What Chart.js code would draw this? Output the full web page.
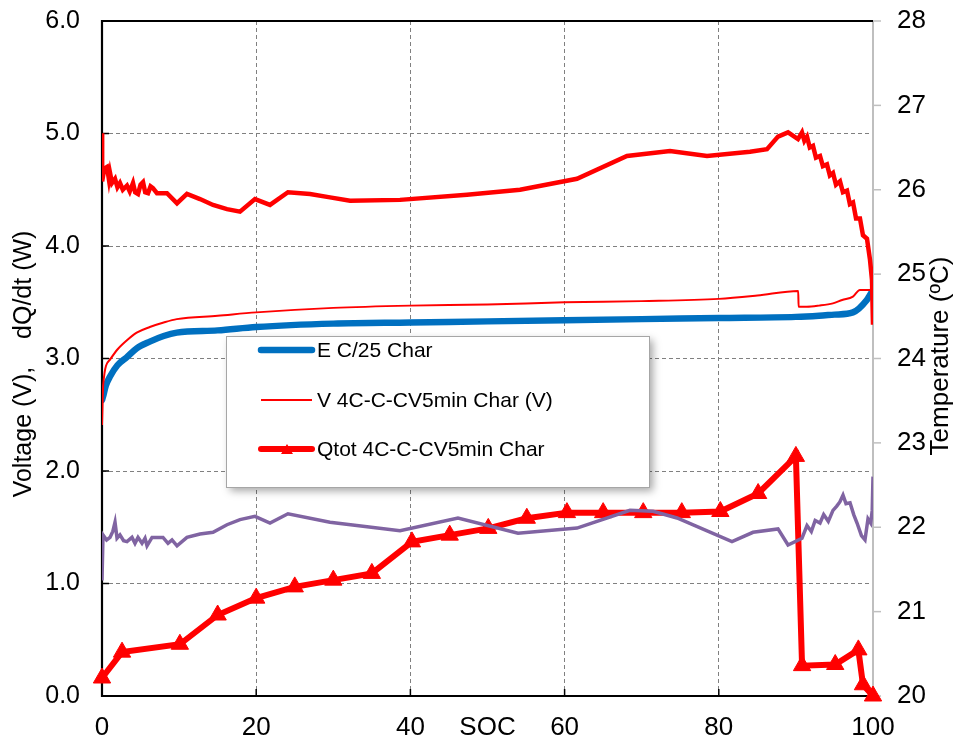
<!DOCTYPE html>
<html>
<head>
<meta charset="utf-8">
<script src="https://cdn.jsdelivr.net/npm/chart.js@4"></script>
<style>
  html, body { margin: 0; padding: 0; background: #fff; }
  #wrap { width: 956px; height: 744px; }
</style>
</head>
<body>
<div id="wrap"><canvas id="c" width="956" height="744"></canvas></div>
<script>
// ---------- tick labels ----------
const socTicks = [0, 20, 40, 60, 80, 100];
const leftTicks = [0, 1, 2, 3, 4, 5, 6];
const tempTicks = [20, 21, 22, 23, 24, 25, 26, 27, 28];

// ---------- E C/25 Char (left axis) ----------
const socE = [0, 0.13, 0.5, 1.04, 2, 3.2, 4.5, 6.2, 8, 9.7, 15, 20, 30, 40, 50, 60, 70, 80, 90, 93, 95, 97.4, 99.2, 100];
const eC25 = [2.63, 2.66, 2.76, 2.84, 2.94, 3.01, 3.09, 3.15, 3.2, 3.23, 3.25, 3.28, 3.31, 3.32, 3.33, 3.34, 3.35, 3.36, 3.37, 3.38, 3.39, 3.41, 3.52, 3.61];

// ---------- V 4C-C-CV5min Char (V) (left axis) ----------
const socV = [0, 0.17, 1.04, 2, 3.2, 4.5, 6.2, 8, 9.7, 15, 20, 30, 40, 50, 60, 70, 80, 85, 90.3, 90.35, 91.4, 93, 94.8, 96, 97.4, 98.3, 99, 100];
const vChar = [2.41, 2.78, 2.99, 3.08, 3.16, 3.23, 3.28, 3.32, 3.35, 3.38, 3.41, 3.45, 3.47, 3.48, 3.50, 3.51, 3.53, 3.56, 3.60, 3.46, 3.46, 3.47, 3.49, 3.52, 3.55, 3.61, 3.61, 3.61];

// ---------- Qtot 4C-C-CV5min Char (left axis) ----------
const socQ = [0, 2.6, 10.1, 15, 20, 25, 30, 35, 40.2, 45.1, 50.1, 55.1, 60.3, 65, 70.2, 75.2, 80.2, 85.1, 90, 90.8, 95.1, 98.1, 98.7, 100];
const qtot = [0.16, 0.39, 0.46, 0.72, 0.87, 0.97, 1.03, 1.09, 1.37, 1.43, 1.49, 1.58, 1.63, 1.63, 1.63, 1.63, 1.64, 1.80, 2.13, 0.27, 0.28, 0.41, 0.10, 0.0];

// ---------- temperature (red, right axis) ----------
const socTr = [0, 0.02, 0.3, 0.65, 0.9, 1.04, 1.3, 1.69, 2.0, 2.33, 2.7, 3.24, 3.6, 4.02, 4.3, 4.67, 5.0, 5.32, 5.6, 5.97, 6.3, 6.61, 7.13, 8.43, 9.73, 11.02, 12.71, 14.4, 16.21, 17.9, 19.84, 21.79, 24.12, 26.98, 29.57, 32.17, 38.65, 47.34, 54.22, 61.61, 68.09, 73.67, 78.47, 84.05, 86.25, 87.68, 88.98, 90.27, 90.79, 91.1, 91.44, 91.8, 92.22, 92.6, 93.13, 93.5, 94.03, 94.4, 94.81, 95.2, 95.72, 96.1, 96.63, 97.0, 97.41, 97.8, 98.31, 98.7, 99.22, 99.61, 99.87, 100];
const tempRed = [26.67, 26.10, 26.25, 26.27, 26.12, 26.20, 26.08, 26.13, 26.03, 26.08, 26.00, 26.05, 25.98, 26.08, 25.97, 25.95, 26.06, 26.09, 25.97, 25.96, 26.04, 26.02, 25.96, 25.96, 25.84, 25.95, 25.89, 25.82, 25.77, 25.74, 25.89, 25.82, 25.97, 25.95, 25.91, 25.87, 25.88, 25.94, 26.00, 26.13, 26.40, 26.46, 26.40, 26.45, 26.48, 26.63, 26.68, 26.60, 26.68, 26.58, 26.63, 26.50, 26.52, 26.38, 26.40, 26.28, 26.30, 26.17, 26.20, 26.06, 26.10, 25.97, 25.99, 25.83, 25.85, 25.66, 25.66, 25.46, 25.42, 25.17, 24.93, 24.40];

// ---------- temperature (purple, right axis) ----------
const socTp = [0, 0.13, 0.6, 1.04, 1.4, 1.69, 1.95, 2.33, 2.8, 3.24, 3.89, 4.28, 4.67, 5.19, 5.58, 5.84, 6.49, 7.91, 8.56, 9.08, 9.73, 11.02, 12.71, 14.4, 16.21, 17.9, 19.84, 21.79, 24.12, 29.57, 38.65, 46.17, 53.96, 61.61, 68.48, 71.47, 74.58, 81.71, 84.44, 87.68, 88.98, 90.79, 91.44, 92.0, 92.5, 93.13, 93.6, 94.2, 94.81, 95.3, 95.7, 96.11, 96.5, 97.02, 97.5, 97.93, 98.5, 98.96, 99.35, 99.7, 99.9, 100];
const tempPurple = [21.37, 21.91, 21.85, 21.88, 21.95, 22.06, 21.87, 21.91, 21.84, 21.83, 21.88, 21.81, 21.88, 21.81, 21.87, 21.78, 21.88, 21.88, 21.81, 21.85, 21.78, 21.88, 21.92, 21.94, 22.03, 22.09, 22.13, 22.05, 22.16, 22.06, 21.96, 22.11, 21.93, 21.99, 22.20, 22.19, 22.11, 21.83, 21.94, 21.98, 21.79, 21.87, 22.02, 21.95, 22.08, 22.05, 22.15, 22.07, 22.20, 22.25, 22.30, 22.38, 22.28, 22.29, 22.15, 22.05, 21.90, 21.85, 22.10, 22.05, 22.20, 22.60];

const FONT = "'Liberation Sans', Arial, sans-serif";
const pts = (xs, ys) => xs.map((x, i) => ({ x: x, y: ys[i] }));

const dsPurple = { label: 'T1', data: pts(socTp, tempPurple), yAxisID: 'yT', borderColor: '#8064A2', borderWidth: 3.5, pointRadius: 0, tension: 0 };
const dsTempRed = { label: 'T2', data: pts(socTr, tempRed), yAxisID: 'yT', borderColor: '#FF0000', borderWidth: 4.5, pointRadius: 0, tension: 0 };
const dsQ = { label: 'Qtot 4C-C-CV5min Char', data: pts(socQ, qtot), yAxisID: 'y', borderColor: '#FF0000', backgroundColor: '#FF0000', borderWidth: 6, pointStyle: 'triangle', pointRadius: 10, pointBorderWidth: 1, tension: 0, clip: false };
const dsV = { label: 'V 4C-C-CV5min Char (V)', data: pts(socV, vChar), yAxisID: 'y', borderColor: '#FF0000', borderWidth: 2, pointRadius: 0, cubicInterpolationMode: 'monotone' };
const dsE = { label: 'E C/25 Char', data: pts(socE, eC25), yAxisID: 'y', borderColor: '#0070C0', borderWidth: 6.5, pointRadius: 0, cubicInterpolationMode: 'monotone', borderCapStyle: 'round' };

const legendItems = [dsE, dsV, dsQ];

const deco = {
  id: 'deco',
  beforeDatasetsDraw(chart) {
    const { ctx, chartArea: a, scales } = chart;
    ctx.save();
    ctx.strokeStyle = '#000';
    ctx.lineWidth = 1.5;
    leftTicks.forEach(v => {
      const y = scales.y.getPixelForValue(v);
      ctx.beginPath(); ctx.moveTo(a.left, y); ctx.lineTo(a.left + 7, y); ctx.stroke();
    });
    socTicks.forEach(v => {
      const x = scales.x.getPixelForValue(v);
      ctx.beginPath(); ctx.moveTo(x, a.bottom); ctx.lineTo(x, a.bottom - 7); ctx.stroke();
    });
    // right axis outward grey ticks
    ctx.strokeStyle = '#BFBFBF'; ctx.lineWidth = 1.5;
    tempTicks.forEach(v => {
      const y = scales.yT.getPixelForValue(v);
      ctx.beginPath(); ctx.moveTo(a.right, y); ctx.lineTo(a.right + 8, y); ctx.stroke();
    });
    ctx.lineWidth = 2;
    ctx.beginPath(); ctx.moveTo(a.right, a.top); ctx.lineTo(a.right, a.bottom); ctx.stroke();
    ctx.strokeStyle = '#000'; ctx.lineWidth = 2.2;
    ctx.beginPath();
    ctx.moveTo(a.right, a.top); ctx.lineTo(a.left, a.top); ctx.lineTo(a.left, a.bottom); ctx.lineTo(a.right, a.bottom);
    ctx.stroke();
    ctx.restore();
  },
  afterDatasetsDraw(chart) {
    const { ctx } = chart;
    ctx.save();
    const bx = 226, by = 336, bw = 423, bh = 151;
    ctx.shadowColor = 'rgba(0,0,0,0.35)';
    ctx.shadowBlur = 8; ctx.shadowOffsetX = 4; ctx.shadowOffsetY = 4;
    ctx.fillStyle = '#fff';
    ctx.fillRect(bx, by, bw, bh);
    ctx.shadowColor = 'transparent';
    ctx.strokeStyle = '#A6A6A6'; ctx.lineWidth = 1;
    ctx.strokeRect(bx + 0.5, by + 0.5, bw, bh);
    const rows = [350, 400, 449];
    ctx.font = '21px ' + FONT;
    ctx.textBaseline = 'middle'; ctx.textAlign = 'left';
    legendItems.forEach((d, i) => {
      const y = rows[i];
      ctx.strokeStyle = d.borderColor; ctx.lineWidth = d.borderWidth; ctx.lineCap = d.borderWidth > 3 ? 'round' : 'butt';
      ctx.beginPath(); ctx.moveTo(261, y); ctx.lineTo(312, y); ctx.stroke();
      if (d.pointStyle === 'triangle') {
        ctx.fillStyle = d.borderColor;
        ctx.beginPath(); ctx.moveTo(287, y - 5); ctx.lineTo(293, y + 5); ctx.lineTo(281, y + 5); ctx.closePath(); ctx.fill();
      }
      ctx.fillStyle = '#000';
      ctx.fillText(d.label, 317, y + 1);
    });
    ctx.restore();
  },
  afterDraw(chart) {
    const { ctx, scales } = chart;
    ctx.save();
    ctx.fillStyle = '#000';
    ctx.textAlign = 'center'; ctx.textBaseline = 'middle';
    ctx.font = '26px ' + FONT;
    ctx.fillText('SOC', scales.x.getPixelForValue(50), 728);
    ctx.font = '25px ' + FONT;
    ctx.translate(24, 364); ctx.rotate(-Math.PI / 2);
    ctx.fillText('Voltage (V),    dQ/dt (W)', 0, 0);
    ctx.restore();
    ctx.save();
    ctx.fillStyle = '#000';
    ctx.textAlign = 'center'; ctx.textBaseline = 'middle';
    ctx.font = '26px ' + FONT;
    ctx.translate(941, 356); ctx.rotate(-Math.PI / 2);
    ctx.fillText('Temperature (ºC)', 0, 0);
    ctx.restore();
  }
};

const hideEnds = (lo, hi) => (c) => (c.tick && (c.tick.value === lo || c.tick.value === hi)) ? 'rgba(0,0,0,0)' : '#808080';

new Chart(document.getElementById('c'), {
  type: 'line',
  data: { datasets: [dsPurple, dsTempRed, dsQ, dsV, dsE] },
  options: {
    responsive: false,
    animation: false,
    devicePixelRatio: 1,
    layout: { padding: { top: 21, left: 0, right: 0, bottom: 0 } },
    plugins: { legend: { display: false }, tooltip: { enabled: false } },
    scales: {
      x: {
        type: 'linear', min: 0, max: 100,
        afterBuildTicks: s => { s.ticks = socTicks.map(v => ({ value: v })); },
        afterFit: s => { s.height = 48; },
        ticks: { font: { family: FONT, size: 26 }, color: '#000', padding: 16, maxRotation: 0 },
        grid: { color: hideEnds(0, 100), lineWidth: 1, drawTicks: false },
        border: { display: false, dash: [4, 3] }
      },
      y: {
        position: 'left', min: 0, max: 6,
        afterBuildTicks: s => { s.ticks = leftTicks.map(v => ({ value: v })); },
        afterFit: s => { s.width = 102; },
        ticks: { font: { family: FONT, size: 25 }, color: '#000', padding: 0, callback: v => v.toFixed(1) },
        grid: { color: hideEnds(0, 6), lineWidth: 1, drawTicks: true, tickLength: 22, tickColor: 'rgba(0,0,0,0)' },
        border: { display: false, dash: [4, 3] }
      },
      yT: {
        position: 'right', min: 20, max: 28,
        afterBuildTicks: s => { s.ticks = tempTicks.map(v => ({ value: v })); },
        afterFit: s => { s.width = 83; },
        ticks: { font: { family: FONT, size: 26 }, color: '#000', padding: 0 },
        grid: { drawOnChartArea: false, drawTicks: true, tickLength: 24, tickColor: 'rgba(0,0,0,0)' },
        border: { display: false }
      }
    }
  },
  plugins: [deco]
});
</script>
</body>
</html>
